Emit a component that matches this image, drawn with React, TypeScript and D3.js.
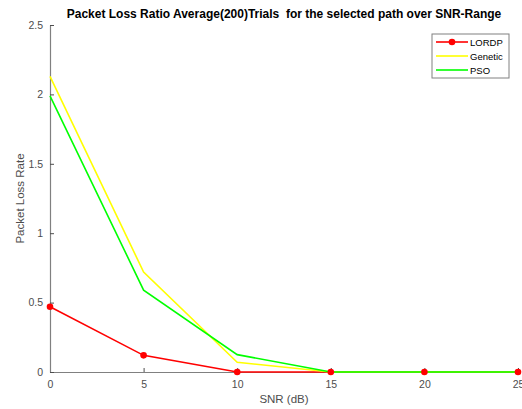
import { useEffect, useRef } from 'react';
import * as d3 from 'd3';

// data
const snr = [0, 5, 10, 15, 20, 25];
const lordp = [0.47, 0.12, 0.0, 0.0, 0.0, 0.0];
const genetic = [2.13, 0.72, 0.07, 0.0, 0.0, 0.0];
const pso = [1.99, 0.59, 0.125, 0.0, 0.0, 0.0];
const xTicks = [0, 5, 10, 15, 20, 25];
const yTicks = [0, 0.5, 1, 1.5, 2, 2.5];
const seriesNames = ['LORDP', 'Genetic', 'PSO'];
const seriesColors = ['#ff0000', '#ffff00', '#00ff00'];

const W = 522;
const H = 409;
const FONT = 'Helvetica, Arial, "Liberation Sans", sans-serif';
const AXIS = '#808080';
const TXT = '#4d4d4d';

export default function App() {
  const svgRef = useRef<SVGSVGElement>(null);

  useEffect(() => {
    const svg = d3.select(svgRef.current);
    svg.selectAll('*').remove();

    const margin = { top: 25, right: 4, bottom: 37, left: 50 };
    const width = W - margin.left - margin.right;
    const height = H - margin.top - margin.bottom;

    const x = d3.scaleLinear().domain([0, 25]).range([0, width]);
    const y = d3.scaleLinear().domain([0, 2.5]).range([height, 0]);

    svg.append('rect').attr('width', W).attr('height', H).attr('fill', '#fff');

    const g = svg.append('g').attr('transform', `translate(${margin.left},${margin.top})`);

    // axes (left + bottom only, ticks inward)
    const xAxis = g.append('g').attr('transform', `translate(0,${height})`)
      .call(d3.axisBottom(x).tickValues(xTicks).tickSizeInner(-4).tickSizeOuter(0).tickPadding(9));
    const yAxis = g.append('g')
      .call(d3.axisLeft(y).tickValues(yTicks).tickSizeInner(-4).tickSizeOuter(0).tickPadding(7)
        .tickFormat((d) => String(d)));
    [xAxis, yAxis].forEach((a) => {
      a.select('.domain').attr('stroke', AXIS).attr('stroke-width', 1.2);
      a.selectAll('.tick line').attr('stroke', TXT);
      a.selectAll('.tick text').attr('fill', TXT).attr('font-size', 10.5).attr('font-family', FONT);
    });

    const all = [lordp, genetic, pso];
    const line = d3.line<number>().x((_d, i) => x(snr[i])).y((d) => y(d));

    // plot order: LORDP, Genetic, PSO
    all.forEach((vals, k) => {
      g.append('path')
        .datum(vals)
        .attr('d', line)
        .attr('fill', 'none')
        .attr('stroke', seriesColors[k])
        .attr('stroke-width', 1.6);
    });

    // LORDP markers drawn on top
    g.selectAll('.dot')
      .data(lordp)
      .join('circle')
      .attr('cx', (_d, i) => x(snr[i]))
      .attr('cy', (d) => y(d))
      .attr('r', 3.3)
      .attr('fill', seriesColors[0]);

    // Title
    svg.append('text')
      .attr('x', margin.left + width / 2)
      .attr('y', 18)
      .attr('text-anchor', 'middle')
      .attr('font-family', FONT)
      .attr('font-weight', 'bold')
      .attr('font-size', 12)
      .attr('fill', '#000')
      .style('white-space', 'pre')
      .text('Packet Loss Ratio Average(200)Trials  for the selected path over SNR-Range');

    // axis labels
    svg.append('text')
      .attr('x', margin.left + width / 2)
      .attr('y', 403)
      .attr('text-anchor', 'middle')
      .attr('font-family', FONT)
      .attr('font-size', 11.5)
      .attr('fill', TXT)
      .text('SNR (dB)');

    svg.append('text')
      .attr('transform', `translate(24,${margin.top + height / 2}) rotate(-90)`)
      .attr('text-anchor', 'middle')
      .attr('font-family', FONT)
      .attr('font-size', 11.5)
      .attr('fill', TXT)
      .text('Packet Loss Rate');

    // legend
    const lg = svg.append('g').attr('transform', 'translate(432,34)');
    lg.append('rect')
      .attr('width', 77).attr('height', 44)
      .attr('fill', '#fff').attr('stroke', '#808080').attr('stroke-width', 1);
    seriesNames.forEach((name, k) => {
      const yy = 8 + k * 14;
      lg.append('line')
        .attr('x1', 4).attr('x2', 36).attr('y1', yy).attr('y2', yy)
        .attr('stroke', seriesColors[k]).attr('stroke-width', 1.6);
      if (k === 0) {
        lg.append('circle').attr('cx', 20).attr('cy', yy).attr('r', 3.3).attr('fill', seriesColors[0]);
      }
      lg.append('text')
        .attr('x', 38).attr('y', yy + 3.5)
        .attr('font-family', FONT).attr('font-size', 9.5).attr('fill', '#000')
        .text(name);
    });
  }, []);

  return (
    <svg ref={svgRef} width={W} height={H}
      style={{ position: 'absolute', left: 0, top: 0, display: 'block' }} />
  );
}
